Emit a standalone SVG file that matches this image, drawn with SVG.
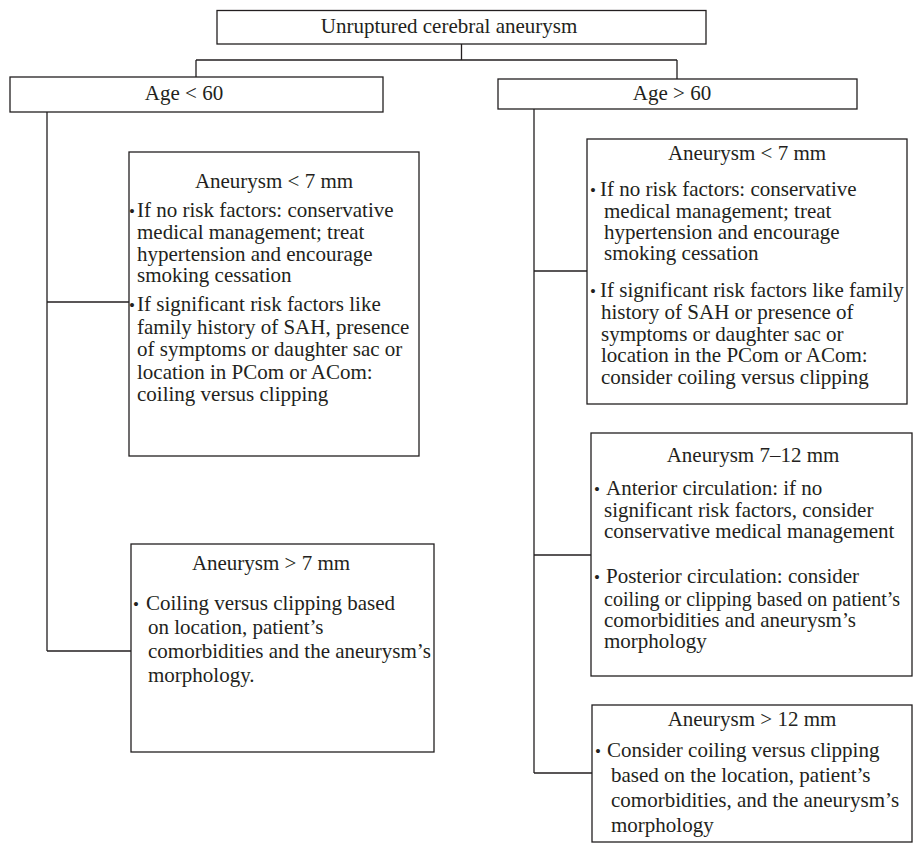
<svg xmlns="http://www.w3.org/2000/svg" width="913" height="843" viewBox="0 0 913 843">
<style>
  .box { fill: #ffffff; stroke: #231f20; stroke-width: 1.3; }
  .conn { fill: none; stroke: #231f20; stroke-width: 1.3; }
  text { font-family: "Liberation Serif", "Times New Roman", serif; font-size: 21px; fill: #231f20; }
  .t { text-anchor: middle; }
  .b { text-anchor: middle; font-size: 17px; }
  .s { font-size: 20px; }
</style>
<rect x="0" y="0" width="913" height="843" fill="#ffffff"/>
<g id="connectors">
  <path class="conn" d="M461.5 44 V60 M196 60 H677 M196 60 V77 M677 60 V79"/>
  <path class="conn" d="M47 112 V651 M47 302 H129 M47 651 H131"/>
  <path class="conn" d="M534 109 V773 M534 271 H587 M534 555 H591 M534 773 H592"/>
</g>
<g id="root">
  <rect class="box" x="217" y="10.5" width="489" height="33.5"/>
  <text class="t" x="449" y="33">Unruptured cerebral aneurysm</text>
</g>
<g id="age-lt-60">
  <rect class="box" x="10" y="77" width="373" height="35"/>
  <text class="t" x="184" y="100">Age &lt; 60</text>
</g>
<g id="age-gt-60">
  <rect class="box" x="498" y="79" width="359" height="30"/>
  <text class="t" x="672" y="100">Age &gt; 60</text>
</g>
<g id="left-small">
  <rect class="box" x="129" y="152" width="290" height="304"/>
  <text class="t" x="274" y="188">Aneurysm &lt; 7 mm</text>
  <text class="b" x="132" y="217">•</text>
  <text x="137" y="217">If no risk factors: conservative</text>
  <text x="137" y="239">medical management; treat</text>
  <text x="137" y="261">hypertension and encourage</text>
  <text x="137" y="282">smoking cessation</text>
  <text class="b" x="132" y="311">•</text>
  <text x="137" y="311">If significant risk factors like</text>
  <text x="137" y="334">family history of SAH, presence</text>
  <text x="137" y="356">of symptoms or daughter sac or</text>
  <text x="137" y="379">location in PCom or ACom:</text>
  <text x="137" y="401">coiling versus clipping</text>
</g>
<g id="left-large">
  <rect class="box" x="131" y="544" width="303" height="208"/>
  <text class="t" x="271" y="570">Aneurysm &gt; 7 mm</text>
  <text class="b" x="136" y="610">•</text>
  <text x="146" y="610">Coiling versus clipping based</text>
  <text x="148" y="634">on location, patient’s</text>
  <text x="148" y="658">comorbidities and the aneurysm’s</text>
  <text x="148" y="682">morphology.</text>
</g>
<g id="right-small">
  <rect class="box" x="587" y="139" width="320" height="265"/>
  <text class="t" x="747" y="160">Aneurysm &lt; 7 mm</text>
  <text class="b" x="593" y="196">•</text>
  <text x="600" y="196">If no risk factors: conservative</text>
  <text x="604" y="217.5">medical management; treat</text>
  <text x="604" y="239">hypertension and encourage</text>
  <text x="604" y="260">smoking cessation</text>
  <text class="b" x="593" y="297">•</text>
  <text x="600" y="297">If significant risk factors like family</text>
  <text x="601" y="319">history of SAH or presence of</text>
  <text x="601" y="341">symptoms or daughter sac or</text>
  <text x="601" y="362">location in the PCom or ACom:</text>
  <text x="601" y="384">consider coiling versus clipping</text>
</g>
<g id="right-medium">
  <rect class="box" x="591" y="433" width="321" height="243"/>
  <text class="t" x="753" y="462">Aneurysm 7–12 mm</text>
  <text class="b" x="597" y="495">•</text>
  <text x="606" y="495">Anterior circulation: if no</text>
  <text x="604" y="517">significant risk factors, consider</text>
  <text x="604" y="538">conservative medical management</text>
  <text class="b" x="597" y="583">•</text>
  <text x="606" y="583">Posterior circulation: consider</text>
  <text class="s" x="604" y="606">coiling or clipping based on patient’s</text>
  <text x="604" y="627">comorbidities and aneurysm’s</text>
  <text x="604" y="648">morphology</text>
</g>
<g id="right-large">
  <rect class="box" x="592" y="705" width="320" height="137"/>
  <text class="t" x="752" y="726">Aneurysm &gt; 12 mm</text>
  <text class="b" x="598" y="757">•</text>
  <text x="607" y="757">Consider coiling versus clipping</text>
  <text x="611" y="782">based on the location, patient’s</text>
  <text x="611" y="807">comorbidities, and the aneurysm’s</text>
  <text x="611" y="832">morphology</text>
</g>
</svg>
